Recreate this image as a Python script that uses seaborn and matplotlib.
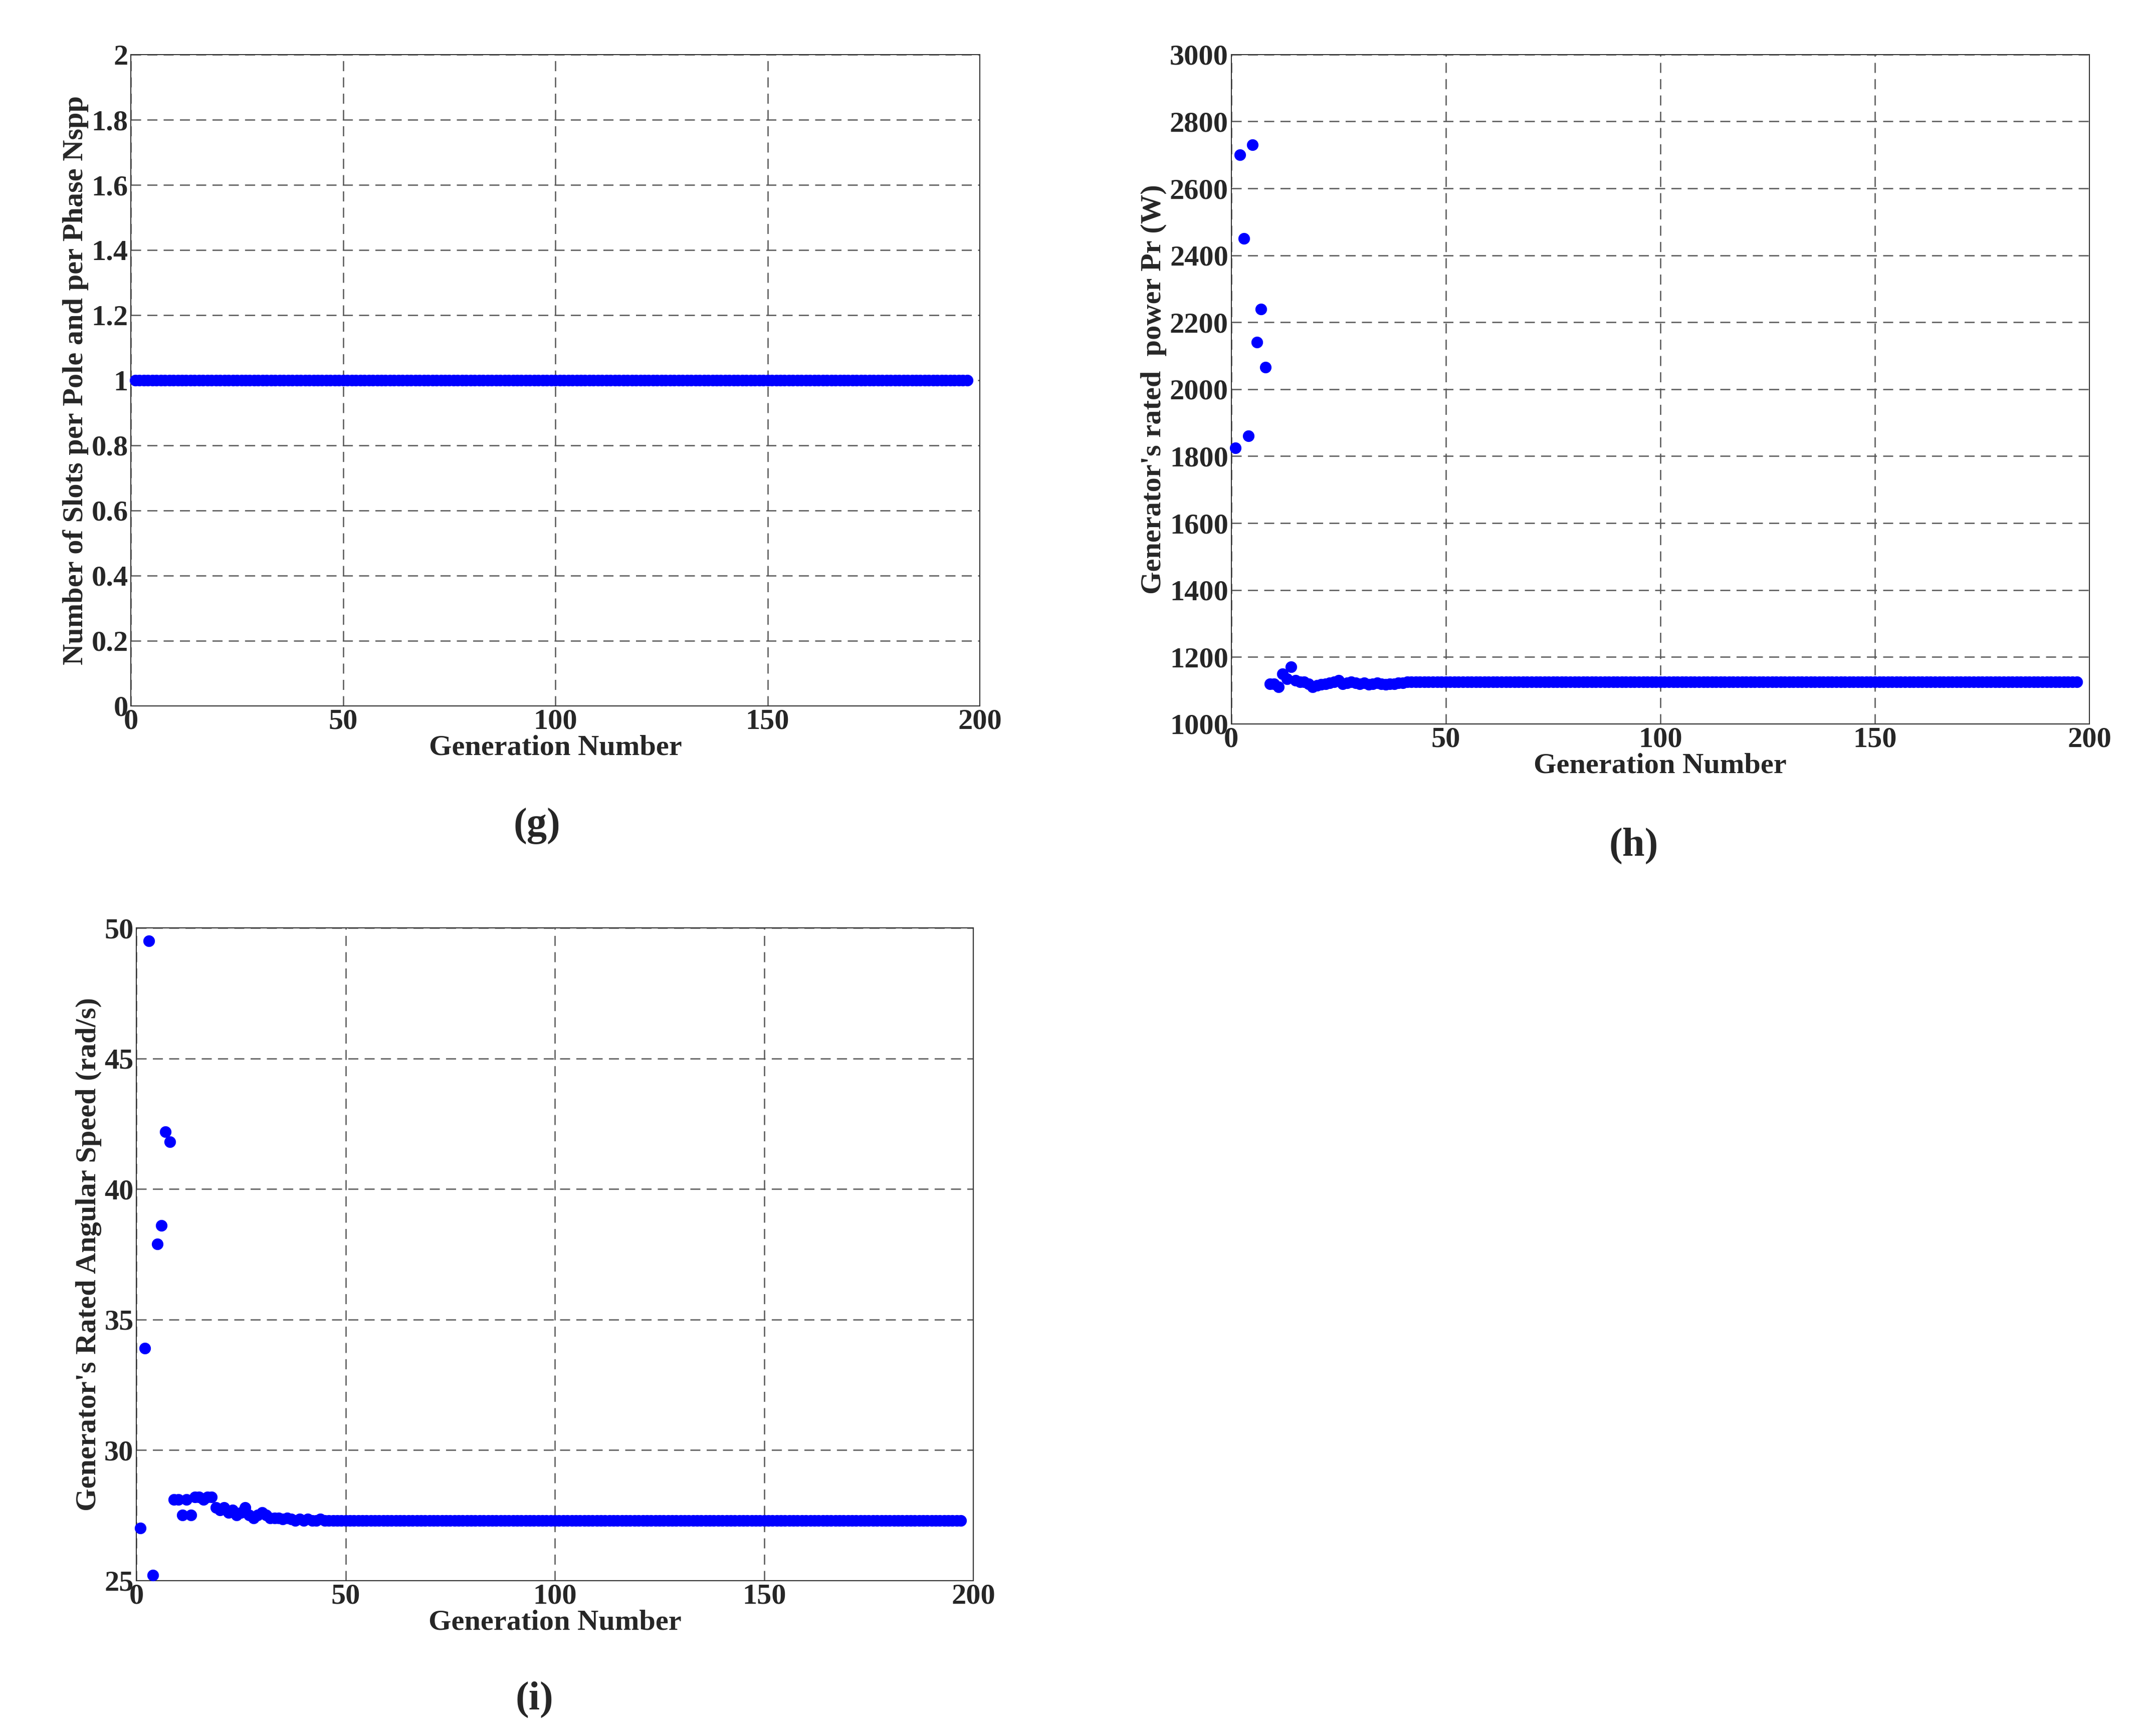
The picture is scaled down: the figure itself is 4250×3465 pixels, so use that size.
import numpy as np
import pandas as pd
import matplotlib
matplotlib.use("Agg")
import matplotlib.pyplot as plt
import seaborn as sns

sns.set_style("white")
plt.rcParams['font.family'] = ['Liberation Serif', 'DejaVu Serif']
plt.rcParams['font.weight'] = 'bold'

n_gen = 197
generation = list(range(1, n_gen + 1))

# Nspp stays at 1 for all generations
nspp = [1.0] * n_gen

# rated power (W)
power_head = [1825, 2700, 2450, 1860, 2730, 2140, 2240, 2065,
              1120, 1120, 1110, 1150, 1135, 1170, 1130, 1125, 1125, 1120,
              1110, 1115, 1118, 1120, 1122, 1125, 1130, 1120, 1122, 1125,
              1122, 1120, 1122, 1118, 1120, 1122, 1120, 1118, 1120, 1120,
              1122, 1122, 1125]
power = power_head + [1125] * (n_gen - len(power_head))

# rated angular speed (rad/s)
speed_head = [27.0, 33.9, 49.5, 25.2, 37.9, 38.6, 42.2, 41.8,
              28.1, 28.1, 27.5, 28.1, 27.5, 28.2, 28.2, 28.1, 28.2, 28.2,
              27.8, 27.7, 27.8, 27.6, 27.7, 27.5, 27.6, 27.8, 27.5, 27.4,
              27.5, 27.6, 27.5, 27.4, 27.4, 27.4, 27.35, 27.4, 27.35, 27.3,
              27.35, 27.3, 27.35, 27.3, 27.3, 27.35, 27.3]
speed = speed_head + [27.3] * (n_gen - len(speed_head))

df = pd.DataFrame({'gen': generation, 'nspp': nspp, 'power': power, 'speed': speed})

fig = plt.figure(figsize=(42.5, 34.65), dpi=100)
ax_g = fig.add_axes([0.0615, 0.5935, 0.3985, 0.375])
ax_h = fig.add_axes([0.578, 0.583, 0.403, 0.3856])
ax_i = fig.add_axes([0.064, 0.0896, 0.393, 0.3758])

panels = [
    (ax_g, 'nspp', 'Number of Slots per Pole and per Phase Nspp', (0, 2), np.arange(0, 2.01, 0.2), 'g', (0.252, 0.524)),
    (ax_h, 'power', "Generator's rated  power Pr (W)", (1000, 3000), np.arange(1000, 3001, 200), 'h', (0.767, 0.5126)),
    (ax_i, 'speed', "Generator's Rated Angular Speed (rad/s)", (25, 50), np.arange(25, 51, 5), 'i', (0.251, 0.021)),
]

for ax, col, ylabel, ylim, yticks, tag, tagpos in panels:
    sns.scatterplot(data=df, x='gen', y=col, ax=ax, color='#0000ff', s=280,
                    linewidth=0, zorder=3, clip_on=False)
    ax.set_xlim(0, 200)
    ax.set_ylim(*ylim)
    ax.set_xticks([0, 50, 100, 150, 200])
    ax.set_yticks(yticks)
    if col == 'nspp':
        ax.set_yticklabels([f'{v:g}' for v in yticks])
    ax.grid(True, linestyle=(0, (8, 5)), color='#555555', linewidth=1.8)
    ax.set_axisbelow(True)
    ax.tick_params(direction='in', labelsize=42, length=8, width=1.5, pad=4)
    for lbl in ax.get_xticklabels() + ax.get_yticklabels():
        lbl.set_fontweight('bold')
    for sp in ax.spines.values():
        sp.set_color('#333333')
        sp.set_linewidth(1.5)
    ax.set_xlabel('Generation Number', fontsize=42, fontweight='bold', labelpad=0)
    ax.set_ylabel(ylabel, fontsize=42, fontweight='bold', labelpad=4)
    fig.text(tagpos[0], tagpos[1], f'({tag})', fontsize=58, fontweight='bold',
             ha='center', va='center')

fig.savefig('out.png', dpi=100)
